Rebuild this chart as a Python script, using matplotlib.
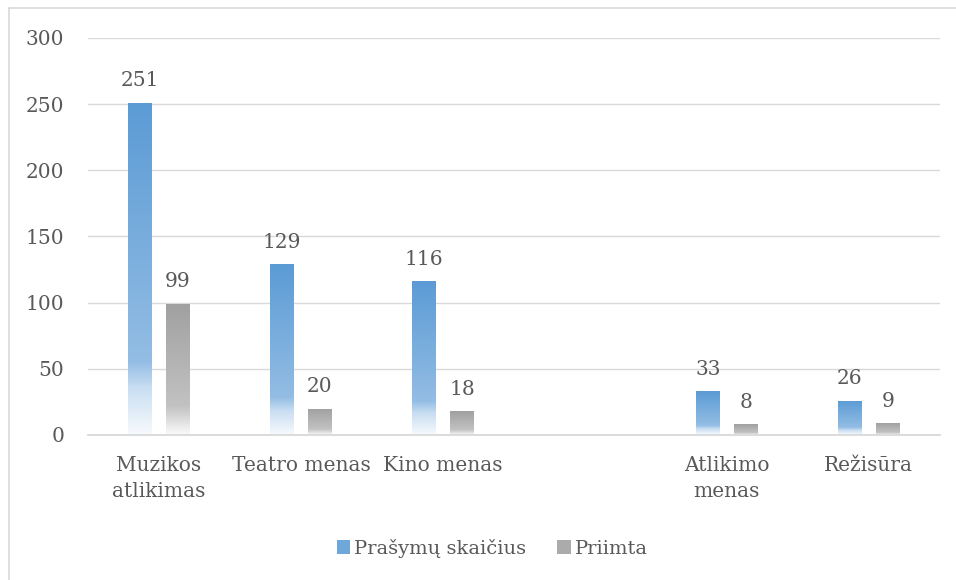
import numpy as np
import matplotlib
matplotlib.use("Agg")
import matplotlib.pyplot as plt
from matplotlib.colors import LinearSegmentedColormap
from matplotlib.patches import Patch
from matplotlib.lines import Line2D

categories = ["Muzikos\natlikimas", "Teatro menas", "Kino menas", "",
              "Atlikimo\nmenas", "Režisūra"]
applications = [251, 129, 116, None, 33, 26]
admitted = [99, 20, 18, None, 8, 9]
series_names = ["Prašymų skaičius", "Priimta"]

TEXT = "#595959"
GRID = "#D9D9D9"

plt.rcParams["font.family"] = ["DejaVu Serif"]

# gradient: top colour -> lighter -> white at the bottom
blue_cmap = LinearSegmentedColormap.from_list(
    "blue", [(0.0, "#5B9BD5"), (0.78, "#93BDE4"), (0.86, "#C9DEF2"), (1.0, "#F7FAFD")])
gray_cmap = LinearSegmentedColormap.from_list(
    "gray", [(0.0, "#A0A0A0"), (0.78, "#C2C2C2"), (0.86, "#D6D6D6"), (1.0, "#FBFBFB")])

fig = plt.figure(figsize=(9.56, 5.8), dpi=100)
ax = fig.add_axes([0.092, 0.25, 0.891, 0.6845])

x = np.arange(len(categories))
width = 0.165
offset = 0.134

grad = np.linspace(0, 1, 256).reshape(-1, 1)


def gradient_bars(xpos, values, cmap):
    for xi, v in zip(xpos, values):
        if v is None:
            continue
        bar = ax.bar(xi, v, width=width, color="none", edgecolor="none")[0]
        im = ax.imshow(grad, cmap=cmap, aspect="auto", origin="upper",
                       extent=(xi - width / 2, xi + width / 2, 0, v), zorder=2)
        im.set_clip_path(bar)
        ax.annotate(str(v), (xi, v), xytext=(0, 9), textcoords="offset points",
                    ha="center", va="bottom", fontsize=14.5, color=TEXT)


gradient_bars(x - offset, applications, blue_cmap)
gradient_bars(x + offset, admitted, gray_cmap)

ax.set_xlim(-0.5, len(categories) - 0.5)
ax.set_ylim(0, 300)
ax.set_yticks(range(0, 301, 50))
ax.set_xticks(x)
ax.set_xticklabels(categories, linespacing=1.45)
ax.tick_params(axis="both", length=0, labelsize=14.5, labelcolor=TEXT)
ax.tick_params(axis="x", pad=15)
ax.tick_params(axis="y", pad=17)
ax.grid(axis="y", color=GRID, linewidth=1)
ax.set_axisbelow(True)
for side in ["top", "right", "left"]:
    ax.spines[side].set_visible(False)
ax.spines["bottom"].set_color(GRID)
ax.spines["bottom"].set_linewidth(1.3)

handles = [Patch(facecolor="#6FA7DB", edgecolor="none"),
           Patch(facecolor="#ABABAB", edgecolor="none")]
fig.legend(handles, series_names, loc="center", bbox_to_anchor=(0.515, 0.055),
           ncol=2, frameon=False, fontsize=14, labelcolor=TEXT,
           handlelength=0.7, handleheight=0.7, handletextpad=0.2, columnspacing=1.6)

# chart frame (top and left edges visible)
fig.add_artist(Line2D([0.009, 1.0], [0.986, 0.986], color=GRID, linewidth=1.2))
fig.add_artist(Line2D([0.009, 0.009], [0.0, 0.986], color=GRID, linewidth=1.2))

fig.savefig("out.png", dpi=100)
